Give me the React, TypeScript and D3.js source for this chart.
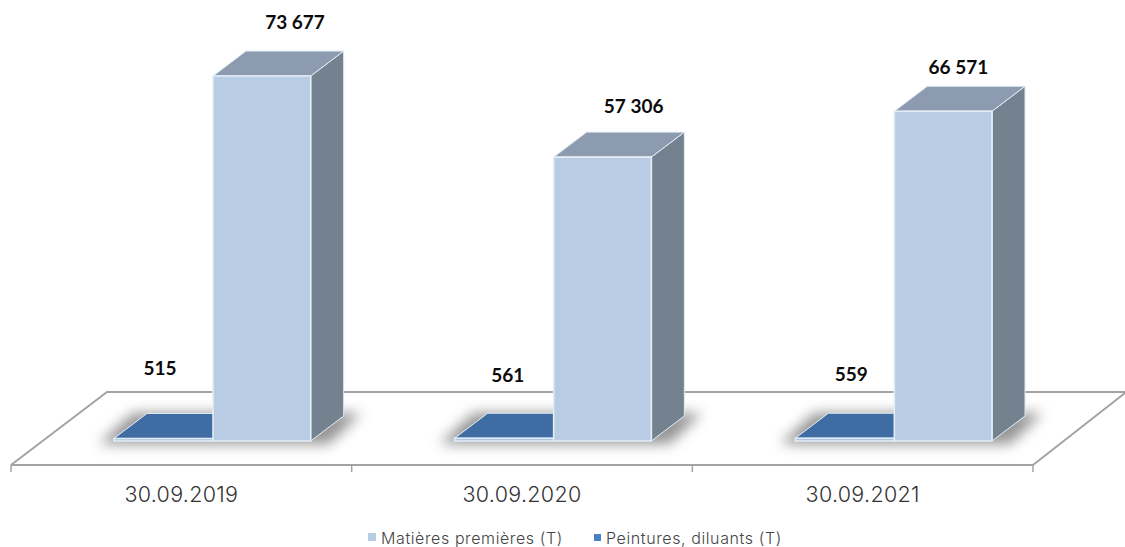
import React from "react";
import * as d3 from "d3";

const dates = ["30.09.2019", "30.09.2020", "30.09.2021"];
const rawMaterials = [73677, 57306, 66571];
const paints = [515, 561, 559];
const seriesNames = ["Matières premières (T)", "Peintures, diluants (T)"];

// Hand-placed data label nudges, relative to the top of each column.
const rawLabelNudge = [[33, -53], [31, -50], [15, -43]];
const paintLabelNudge = [[-3, -69], [4, -62], [7, -63]];

const WIDTH = 1125;
const HEIGHT = 547;
const DEPTH_X = 33;
const DEPTH_Y = -25;
const BASE_Y = 441;

const x = d3.scaleBand<string>().domain(dates).range([11, 1033]);
const y = d3.scaleLinear().domain([0, 80000]).range([BASE_Y, BASE_Y - 396.3]);

const poly = (pts: [number, number][]) => {
  const p = d3.path();
  pts.forEach(([a, b], i) => (i ? p.lineTo(a, b) : p.moveTo(a, b)));
  p.closePath();
  return p.toString();
};

type BoxProps = { x0: number; x1: number; value: number; front: string; top: string; side: string };

// A column in oblique projection: front face, roof and right-hand side.
function Box({ x0, x1, value, front, top, side }: BoxProps) {
  const t = y(value);
  const edge = { stroke: "#e4edf6", strokeLinejoin: "round" as const };
  return (
    <g>
      <path
        d={poly([[x1, BASE_Y], [x1 + DEPTH_X, BASE_Y + DEPTH_Y], [x1 + DEPTH_X, t + DEPTH_Y], [x1, t]])}
        fill={side}
        {...edge}
        strokeWidth={1}
      />
      <path
        d={poly([[x0, t], [x0 + DEPTH_X, t + DEPTH_Y], [x1 + DEPTH_X, t + DEPTH_Y], [x1, t]])}
        fill={top}
        {...edge}
        strokeWidth={1}
      />
      <path d={poly([[x0, BASE_Y], [x0, t], [x1, t], [x1, BASE_Y]])} fill={front} {...edge} strokeWidth={1.6} />
    </g>
  );
}

export default function App() {
  const band = x.bandwidth();
  const floorColor = "#a3a3a3";
  const bold = { fontFamily: "Lato, 'Open Sans', sans-serif", fontWeight: 700, fontSize: 19, fill: "#0b0b0b" };
  return (
    <svg
      width={WIDTH}
      height={HEIGHT}
      viewBox={`0 0 ${WIDTH} ${HEIGHT}`}
      style={{ position: "absolute", left: 0, top: 0, background: "#fff" }}
    >
      <defs>
        <filter id="floorShadow" x="-20%" y="-60%" width="140%" height="220%">
          <feGaussianBlur stdDeviation="6.5" />
        </filter>
      </defs>

      {/* Floor of the 3D plot */}
      <path
        d={`M${x.range()[0]},465 L107,392 L${WIDTH},392 M${x.range()[1]},465 L${WIDTH},393`}
        fill="none"
        stroke={floorColor}
        strokeWidth={2}
      />

      {/* Contact shadows */}
      {dates.map((d) => {
        const b = x(d)!;
        return (
          <path
            key={d}
            d={poly([
              [b + 88, BASE_Y + 3],
              [b + 122, 413],
              [b + 350, 413],
              [b + 318, BASE_Y + 3],
            ])}
            fill="#6c6c6c"
            opacity={0.72}
            filter="url(#floorShadow)"
          />
        );
      })}

      {/* Axis line with tick marks */}
      <path
        d={`M${x.range()[0]},465 H${x.range()[1]}`}
        stroke={floorColor}
        strokeWidth={2}
        fill="none"
      />
      {[...dates.map((d) => x(d)!), x.range()[1]].map((t) => (
        <line key={t} x1={t} x2={t} y1={465} y2={472} stroke={floorColor} strokeWidth={1.5} />
      ))}

      {/* Columns */}
      {dates.map((d, i) => {
        const b = x(d)!;
        return (
          <g key={d}>
            <Box
              x0={b + 103}
              x1={b + 202}
              value={paints[i]}
              front="#a9c3e2"
              top="#3f6ca3"
              side="#3f6ca3"
            />
            <Box
              x0={b + 202}
              x1={b + 299.7}
              value={rawMaterials[i]}
              front="#b8cce4"
              top="#8c9bb0"
              side="#74828f"
            />
          </g>
        );
      })}

      {/* Data labels */}
      {dates.map((d, i) => {
        const b = x(d)!;
        const rawCentre = b + 251;
        const paintCentre = b + 152;
        return (
          <g key={d} textAnchor="middle" {...bold}>
            <text x={rawCentre + rawLabelNudge[i][0]} y={y(rawMaterials[i]) + rawLabelNudge[i][1] + 6}>
              {d3.format(",")(rawMaterials[i]).replace(",", " ")}
            </text>
            <text x={paintCentre + paintLabelNudge[i][0]} y={y(paints[i]) + paintLabelNudge[i][1] + 6}>
              {paints[i]}
            </text>
          </g>
        );
      })}

      {/* Category labels */}
      {dates.map((d) => (
        <text
          key={d}
          x={x(d)! + band / 2}
          y={502}
          textAnchor="middle"
          fontFamily="Inter, 'Open Sans', sans-serif"
          fontWeight={300}
          fontSize={21.5}
          letterSpacing={0.3}
          fill="#333"
        >
          {d}
        </text>
      ))}

      {/* Legend */}
      <g fontFamily="Inter, 'Open Sans', sans-serif" fontWeight={300} fontSize={16} letterSpacing={0.6} fill="#444">
        <rect x={368} y={533} width={8} height={8} fill="#b8cce4" />
        <text x={381} y={544}>{seriesNames[0]}</text>
        <rect x={594} y={534} width={7} height={7} fill="#4a7fc4" />
        <text x={606} y={544}>{seriesNames[1]}</text>
      </g>
    </svg>
  );
}
